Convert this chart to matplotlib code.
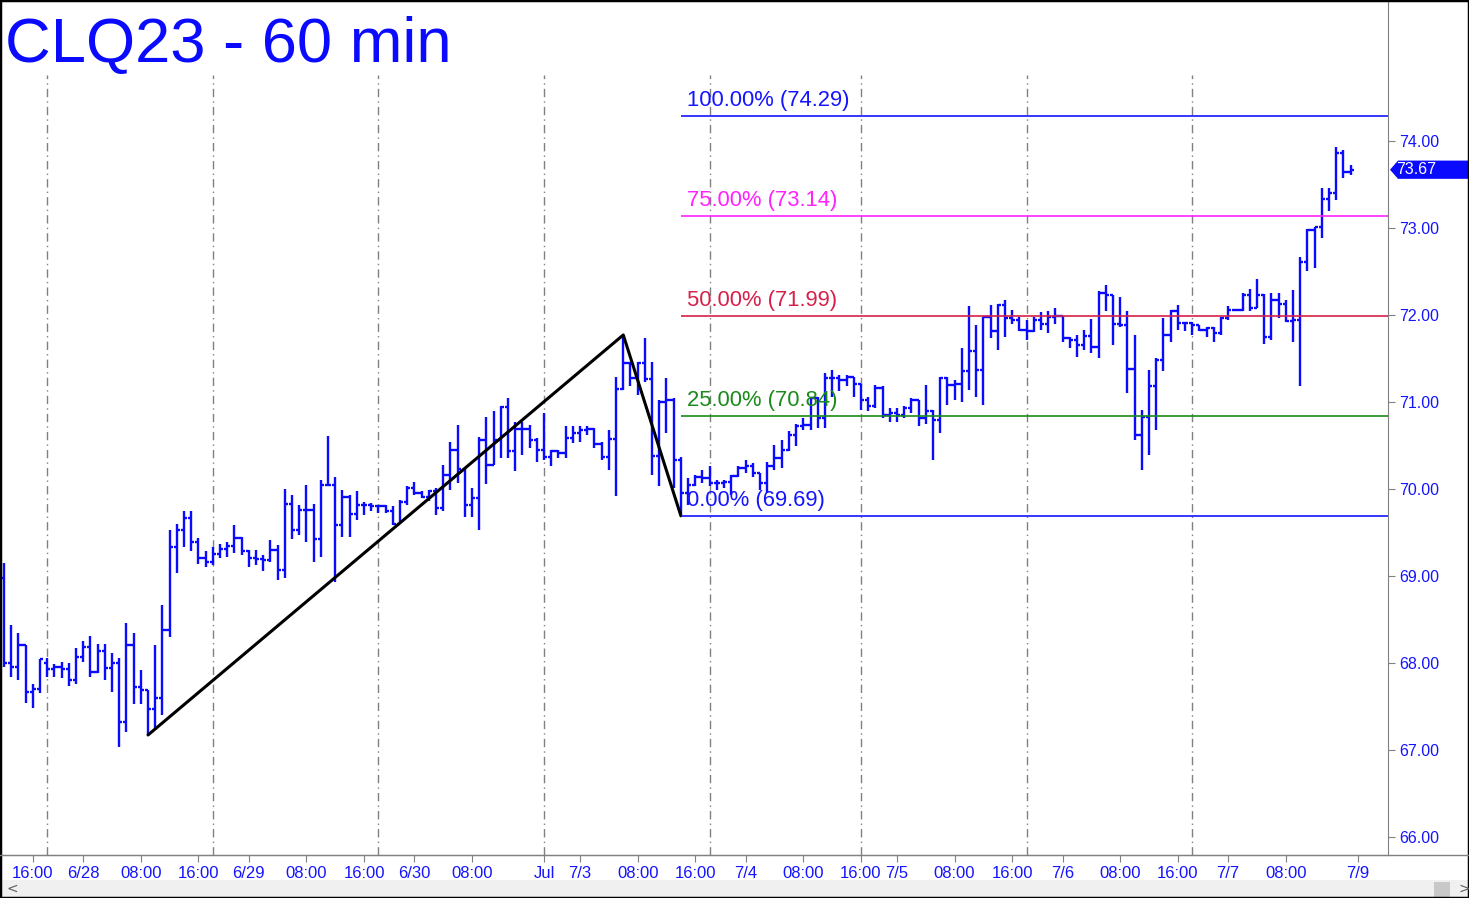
import matplotlib
matplotlib.use("Agg")
import matplotlib.pyplot as plt
import matplotlib.transforms as mtransforms
from matplotlib.patches import Rectangle, Polygon
from matplotlib.lines import Line2D

# hourly OHLC, CLQ23
opens = [68.97, 68.00, 67.95, 68.20, 67.67, 67.70, 68.00, 67.93, 67.95, 67.93,
         67.80, 68.07, 68.18, 67.89, 68.14, 67.94, 68.00, 67.32, 68.20, 67.72,
         67.69, 67.47, 67.59, 68.38, 69.33, 69.53, 69.67, 69.39, 69.20, 69.16,
         69.25, 69.31, 69.34, 69.43, 69.29, 69.20, 69.19, 69.18, 69.30, 69.07,
         69.83, 69.53, 69.76, 69.76, 69.42, 70.05, 70.04, 69.59, 69.91, 69.71,
         69.82, 69.82, 69.80, 69.80, 69.74, 69.60, 69.85, 70.01, 69.95, 69.91,
         69.98, 69.78, 70.16, 70.45, 70.22, 69.82, 69.90, 70.56, 70.28, 70.56,
         70.94, 70.43, 70.69, 70.69, 70.56, 70.45, 70.37, 70.43, 70.41, 70.59,
         70.64, 70.68, 70.69, 70.52, 70.37, 70.57, 71.15, 71.45, 71.27, 71.45,
         71.26, 70.38, 71.00, 71.02, 70.33, 69.95, 70.04, 70.14, 70.12, 70.07,
         70.07, 70.08, 70.15, 70.24, 70.26, 70.18, 70.07, 70.26, 70.36, 70.45,
         70.62, 70.72, 70.74, 71.04, 70.81, 71.27, 71.27, 71.25, 71.29, 71.21,
         71.02, 70.95, 71.16, 70.85, 70.87, 70.85, 70.93, 71.02, 70.81, 70.90,
         70.79, 71.27, 71.19, 71.21, 71.35, 71.58, 71.37, 71.98, 71.81, 72.11,
         71.96, 71.94, 71.83, 71.81, 71.94, 71.90, 71.98, 71.99, 71.73, 71.71,
         71.65, 71.76, 71.63, 72.25, 72.23, 71.90, 71.88, 71.38, 70.62, 70.83,
         71.18, 71.48, 71.77, 72.04, 71.91, 71.91, 71.88, 71.83, 71.85, 71.79,
         71.96, 72.06, 72.06, 72.23, 72.08, 72.23, 71.75, 72.17, 72.13, 71.93,
         71.94, 72.61, 72.98, 73.01, 73.33, 73.40, 73.86, 73.64]
highs = [69.15, 68.43, 68.34, 68.20, 67.76, 68.04, 68.06, 67.99, 68.01, 68.00,
         68.17, 68.25, 68.31, 68.22, 68.22, 68.11, 68.05, 68.46, 68.34, 67.92,
         67.69, 68.20, 68.66, 69.53, 69.60, 69.75, 69.75, 69.43, 69.28, 69.33,
         69.37, 69.39, 69.59, 69.45, 69.30, 69.30, 69.24, 69.41, 69.35, 70.00,
         69.93, 69.81, 70.04, 69.83, 70.10, 70.61, 70.14, 69.99, 69.93, 69.97,
         69.85, 69.84, 69.82, 69.82, 69.80, 69.87, 70.03, 70.08, 69.97, 69.99,
         70.01, 70.28, 70.54, 70.74, 70.24, 70.01, 70.60, 70.83, 70.89, 70.95,
         71.05, 70.77, 70.77, 70.74, 70.58, 70.87, 70.45, 70.45, 70.72, 70.72,
         70.72, 70.72, 70.70, 70.54, 70.68, 71.29, 71.77, 71.46, 71.46, 71.73,
         71.46, 71.02, 71.27, 71.04, 70.37, 70.12, 70.16, 70.22, 70.26, 70.10,
         70.10, 70.16, 70.26, 70.33, 70.30, 70.18, 70.31, 70.50, 70.56, 70.66,
         70.75, 70.81, 71.06, 71.06, 71.33, 71.37, 71.31, 71.31, 71.29, 71.21,
         71.06, 71.19, 71.18, 70.93, 70.93, 70.95, 71.04, 71.02, 71.19, 70.91,
         71.29, 71.29, 71.25, 71.62, 72.10, 71.88, 71.98, 72.11, 72.13, 72.17,
         72.06, 71.98, 71.94, 71.98, 72.03, 72.04, 72.08, 71.99, 71.75, 71.77,
         71.83, 71.95, 72.27, 72.34, 72.23, 72.21, 72.04, 71.77, 70.91, 71.37,
         71.50, 71.96, 72.06, 72.11, 71.92, 71.92, 71.88, 71.86, 71.86, 71.98,
         72.10, 72.07, 72.25, 72.30, 72.41, 72.24, 72.25, 72.25, 72.17, 72.29,
         72.67, 72.99, 73.01, 73.46, 73.46, 73.93, 73.90, 73.72]
lows = [67.95, 67.84, 67.80, 67.54, 67.48, 67.65, 67.84, 67.84, 67.82, 67.73,
        67.76, 68.01, 67.84, 67.88, 67.80, 67.67, 67.03, 67.20, 67.53, 67.53,
        67.17, 67.23, 67.40, 68.30, 69.03, 69.33, 69.28, 69.14, 69.10, 69.12,
        69.20, 69.22, 69.26, 69.24, 69.10, 69.12, 69.05, 69.16, 68.95, 68.97,
        69.42, 69.47, 69.39, 69.16, 69.22, 70.04, 68.93, 69.45, 69.45, 69.64,
        69.70, 69.74, 69.72, 69.72, 69.59, 69.60, 69.82, 69.93, 69.89, 69.86,
        69.70, 69.74, 69.99, 70.07, 69.68, 69.68, 69.53, 70.06, 70.27, 70.35,
        70.35, 70.20, 70.39, 70.47, 70.31, 70.33, 70.26, 70.35, 70.35, 70.53,
        70.54, 70.62, 70.47, 70.33, 70.22, 69.92, 71.14, 71.18, 71.08, 71.23,
        70.16, 70.03, 70.64, 70.01, 69.70, 69.82, 70.03, 70.07, 70.03, 69.99,
        70.01, 69.93, 70.14, 70.18, 70.14, 69.99, 69.95, 70.22, 70.24, 70.44,
        70.49, 70.68, 70.68, 70.70, 70.70, 71.06, 71.12, 71.18, 71.06, 70.91,
        70.89, 70.93, 70.81, 70.77, 70.77, 70.81, 70.87, 70.72, 70.75, 70.33,
        70.64, 70.96, 71.02, 71.00, 71.14, 71.06, 70.96, 71.73, 71.60, 71.75,
        71.90, 71.81, 71.71, 71.80, 71.83, 71.79, 71.90, 71.69, 71.62, 71.52,
        71.60, 71.56, 71.50, 72.04, 71.65, 71.86, 71.10, 70.56, 70.22, 70.39,
        70.68, 71.35, 71.69, 71.83, 71.81, 71.77, 71.81, 71.75, 71.69, 71.77,
        71.94, 72.04, 72.04, 72.04, 72.08, 71.67, 71.71, 71.96, 71.92, 71.69,
        71.18, 72.50, 72.54, 72.88, 73.19, 73.32, 73.57, 73.61]
closes = [68.00, 67.95, 68.20, 67.67, 67.70, 68.04, 67.93, 67.95, 67.93, 67.80,
          68.07, 68.18, 67.89, 68.14, 67.94, 68.00, 67.32, 68.20, 67.72, 67.69,
          67.47, 67.59, 68.38, 69.33, 69.53, 69.67, 69.39, 69.20, 69.16, 69.25,
          69.31, 69.34, 69.43, 69.29, 69.20, 69.19, 69.18, 69.30, 69.07, 69.83,
          69.53, 69.76, 69.76, 69.42, 70.05, 70.04, 69.59, 69.91, 69.71, 69.82,
          69.82, 69.80, 69.80, 69.74, 69.60, 69.85, 70.01, 69.95, 69.91, 69.98,
          69.78, 70.16, 70.45, 70.23, 69.82, 69.90, 70.56, 70.28, 70.56, 70.94,
          70.43, 70.69, 70.69, 70.56, 70.45, 70.37, 70.43, 70.41, 70.59, 70.64,
          70.68, 70.69, 70.52, 70.37, 70.57, 71.15, 71.45, 71.27, 71.45, 71.26,
          70.38, 71.00, 71.02, 70.33, 69.95, 70.04, 70.14, 70.12, 70.07, 70.07,
          70.08, 70.15, 70.24, 70.26, 70.18, 70.07, 70.26, 70.36, 70.45, 70.62,
          70.72, 70.74, 71.04, 70.81, 71.27, 71.27, 71.25, 71.29, 71.21, 71.02,
          70.95, 71.16, 70.85, 70.87, 70.85, 70.93, 71.02, 70.81, 70.90, 70.79,
          71.27, 71.19, 71.21, 71.35, 71.58, 71.37, 71.98, 71.81, 72.11, 71.96,
          71.94, 71.83, 71.81, 71.94, 71.90, 71.98, 71.99, 71.73, 71.71, 71.65,
          71.76, 71.63, 72.25, 72.23, 71.90, 71.88, 71.38, 70.62, 70.83, 71.18,
          71.48, 71.77, 72.04, 71.91, 71.91, 71.88, 71.83, 71.85, 71.79, 71.96,
          72.06, 72.06, 72.23, 72.08, 72.23, 71.75, 72.17, 72.13, 71.93, 71.94,
          72.61, 72.98, 73.01, 73.33, 73.40, 73.86, 73.64, 73.67]

# swing points (bar index, price) for the ABC line
swing_x = [20, 86, 94]
swing_y = [67.17, 71.77, 69.69]

fib_pcts = ["100.00%", "75.00%", "50.00%", "25.00%", "0.00%"]
fib_levels = [74.29, 73.14, 71.99, 70.84, 69.69]
fib_colors = ["#1414ff", "#ff22ff", "#d6204a", "#1a8a1a", "#1414ff"]

session_starts = [6, 29, 52, 75, 98, 119, 142, 165]
xtick_pos = [4, 11, 19, 27, 34, 42, 50, 57, 65, 75, 80, 88, 96, 103, 111, 119,
             124, 132, 140, 147, 155, 163, 170, 178, 188]
xtick_labels = ["16:00", "6/28", "08:00", "16:00", "6/29", "08:00", "16:00", "6/30",
                "08:00", "Jul", "7/3", "08:00", "16:00", "7/4", "08:00", "16:00",
                "7/5", "08:00", "16:00", "7/6", "08:00", "16:00", "7/7", "08:00", "7/9"]
yticks = [66, 67, 68, 69, 70, 71, 72, 73, 74]
last_price = 73.67

blue = "#0a0aff"
W, H = 1469, 898
fig = plt.figure(figsize=(W / 100, H / 100), dpi=100)
fig.patch.set_facecolor("white")
ax = fig.add_axes([2 / W, 43 / H, 1386 / W, 854 / H])
ax.set_xlim(-0.28, 192.2)
ax.set_ylim(65.79, 75.61)

# session separators
for s in session_starts:
    ax.axvline(s, ymin=0, ymax=780 / 854, color="#808080", lw=1, ls=(0, (6, 3, 1, 3)))

# OHLC bars
xs = list(range(len(closes)))
ax.vlines(xs, lows, highs, color=blue, lw=1.7)
ax.hlines(opens, [x - 0.45 for x in xs], xs, color=blue, lw=1.7)
ax.hlines(closes, xs, [x + 0.45 for x in xs], color=blue, lw=1.7)

ax.plot(swing_x, swing_y, color="black", lw=2.2, solid_capstyle="round")

for pct, lvl, col in zip(fib_pcts, fib_levels, fib_colors):
    ax.hlines(lvl, swing_x[-1], 192.2, color=col, lw=1.2)
    ax.annotate(f"{pct} ({lvl:.2f})", xy=(swing_x[-1], lvl), xytext=(4.5, 3.5),
                textcoords="offset points", va="bottom", ha="left",
                color=col, fontsize=15.8, family="Liberation Sans")

# axes styling
for side in ["top", "left"]:
    ax.spines[side].set_visible(False)
ax.spines["right"].set_color("#808080")
ax.spines["bottom"].set_color("#808080")
ax.yaxis.tick_right()
ax.set_yticks(yticks)
ax.set_yticklabels([f"{v:.2f}" for v in yticks])
ax.tick_params(axis="y", colors="#808080", labelcolor="#1414ff", length=5,
               pad=3, labelsize=11.5)
for t in ax.get_yticklabels():
    t.set_family("Liberation Sans")
ax.set_xticks(xtick_pos)
ax.set_xticklabels(xtick_labels)
ax.tick_params(axis="x", colors="#808080", labelcolor="#1414ff", length=5,
               pad=3, labelsize=12)
for t in ax.get_xticklabels():
    t.set_family(["Liberation Sans Narrow", "Liberation Sans"])

# last price marker on the price scale
trans = mtransforms.blended_transform_factory(fig.transFigure, ax.transData)
hh = 0.105
ax.add_patch(Polygon([(1390 / W, last_price), (1398 / W, last_price + hh),
                      (1.0, last_price + hh), (1.0, last_price - hh),
                      (1398 / W, last_price - hh)], closed=True,
                     transform=trans, facecolor="#0a0aff", edgecolor="none",
                     clip_on=False))
ax.text(1396 / W, last_price, f"{last_price:.2f}", transform=trans, color="white",
        va="center", ha="left", fontsize=11.5, family="Liberation Sans", clip_on=False)

# bottom line across price panel
fig.add_artist(Line2D([0, 1], [1 - 855 / H, 1 - 855 / H], color="#808080", lw=1))

# scroll bar strip
fig.add_artist(Rectangle((0, 0), 1, 18 / H, facecolor="#f0f0f0", edgecolor="none"))
fig.add_artist(Rectangle((1434 / W, 1 / H), 16 / W, 15 / H, facecolor="#c8c8c8",
                         edgecolor="none"))
fig.text(6 / W, 9 / H, "<", color="#606060", fontsize=10, va="center")
fig.text(1458 / W, 9 / H, ">", color="#606060", fontsize=10, va="center")

# title
fig.text(5 / W, 1 - 62 / H, "CLQ23 - 60 min", color="#0a0aff", fontsize=45.5,
         family="Liberation Sans", va="baseline", ha="left")

# window frame
fig.add_artist(Rectangle((0, 0), 1, 1, transform=fig.transFigure, fill=False,
                         edgecolor="black", lw=2.5))

fig.savefig("out.png", dpi=100)
